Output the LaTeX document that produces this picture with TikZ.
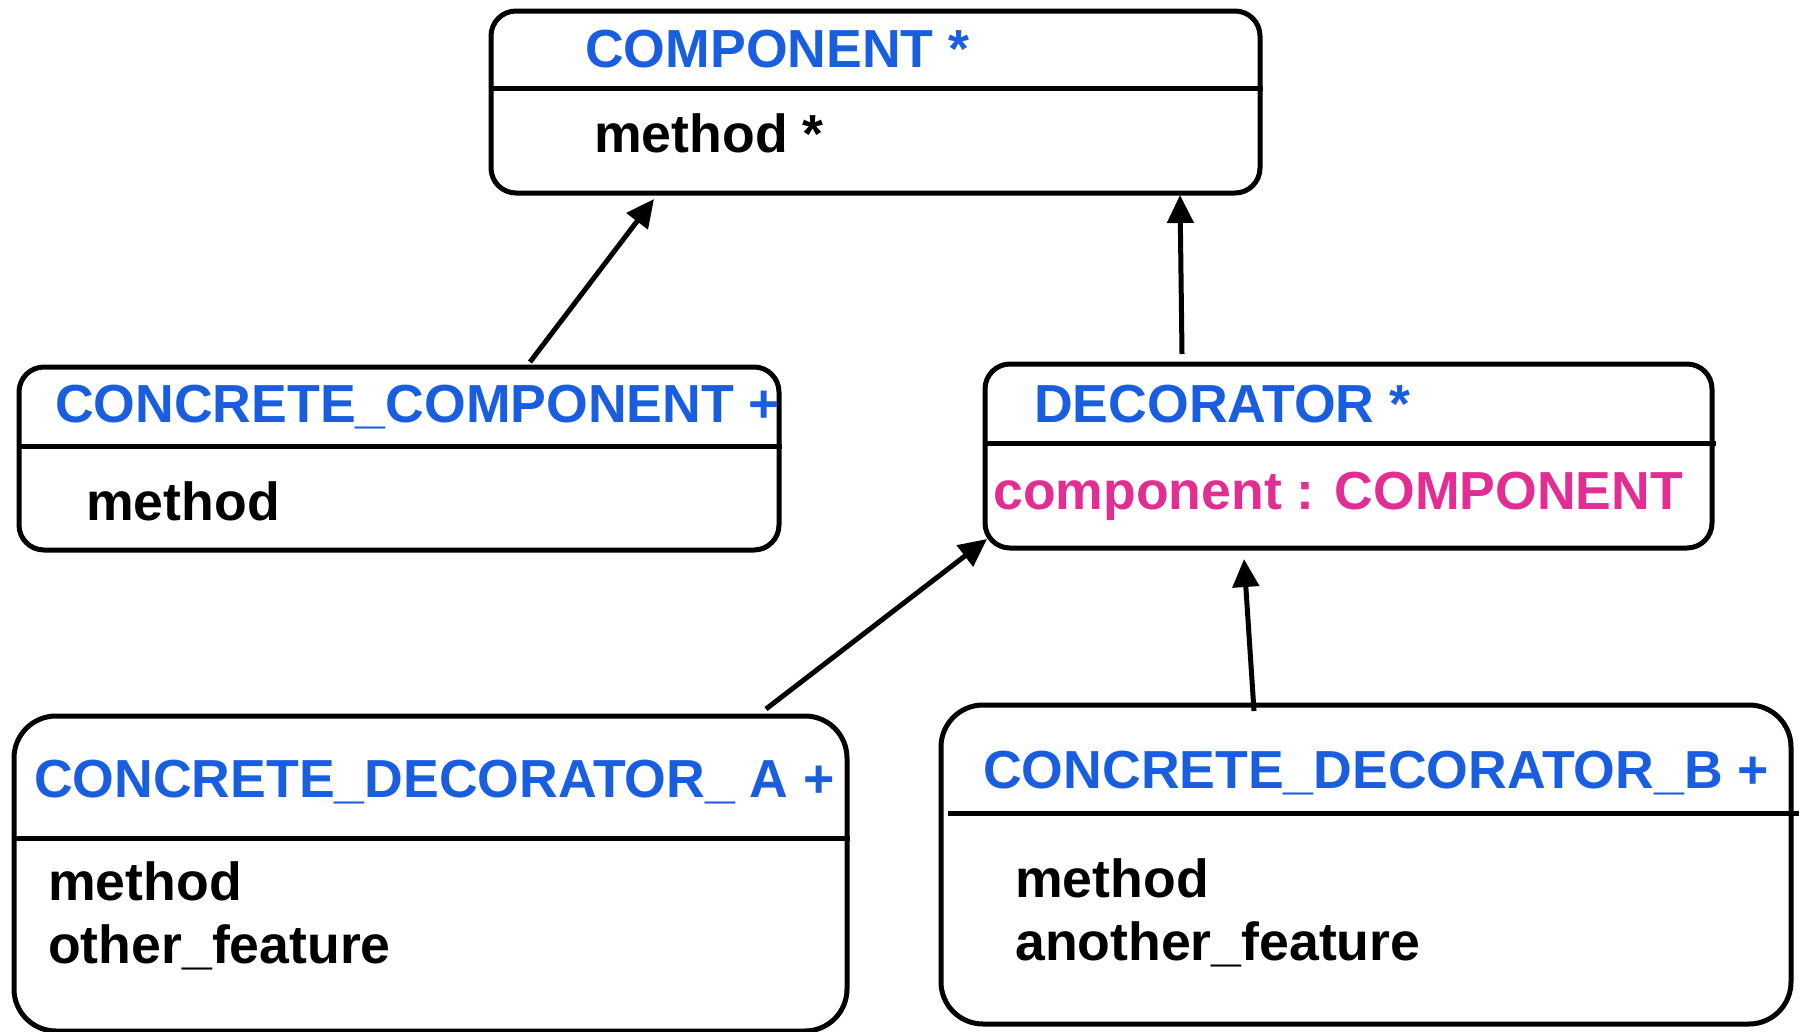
\documentclass[tikz,border=0pt]{standalone}
\usepackage{fontspec}
\setmainfont{Liberation Sans}
\usetikzlibrary{arrows.meta}
\definecolor{tblue}{RGB}{26,94,224}
\definecolor{tmag}{RGB}{226,46,146}
\begin{document}
\begin{tikzpicture}[x=1pt,y=-1pt,
  box/.style={draw=black,line width=5pt,rounded corners=#1,inner sep=0pt,fill=none},
  box/.default=25pt,
  divider/.style={draw=black,line width=5pt},
  txt/.style={anchor=base west,inner sep=0pt,font=\fontsize{53.6}{60}\selectfont\bfseries},
  ttl/.style={txt,text=tblue},
  attr/.style={txt,text=tmag},
  feat/.style={txt,text=black},
  inherit/.style={draw=black,line width=5pt,-{Triangle[length=28pt,width=26pt]}}]
\useasboundingbox (0,0) rectangle (1799,1031);
% boxes
\node[box,minimum width=769pt,minimum height=182pt] (comp) at (875.5,102) {};
\node[box,minimum width=760pt,minimum height=183pt] (cc) at (399,458.5) {};
\node[box,minimum width=727pt,minimum height=184pt] (dec) at (1348.5,456) {};
\node[box=42pt,minimum width=833pt,minimum height=315pt] (cda) at (430.5,873.5) {};
\node[box=42pt,minimum width=850pt,minimum height=319pt] (cdb) at (1366,864.5) {};
% dividers
\draw[divider] (comp.west |- 0,88) -- (comp.east |- 0,88);
\draw[divider] (cc.west |- 0,446) -- (cc.east |- 0,446);
\draw[divider] (dec.west |- 0,443) -- (1716,443);
\draw[divider] (cda.west |- 0,838) -- (cda.east |- 0,838);
\draw[divider] (948,813) -- (1799,813);
% texts
\node[ttl] (tcomp) at (585,67) {COMPONENT *};
\node[feat] (mcomp) at (594,152) {method *};
\node[ttl] (tcc) at (55,422) {CONCRETE\_COMPONENT +};
\node[feat] (mcc) at (86,520) {method};
\node[ttl] (tdec) at (1034,422) {DECORATOR *};
\node[attr] (adec) at (993,509) {component : COMPONENT};
\node[ttl] (tcda) at (34,797) {CONCRETE\_DECORATOR\_ A +};
\node[feat] (mcda) at (48,900) {method};
\node[feat] (ocda) at (48,963) {other\_feature};
\node[ttl] (tcdb) at (983,788) {CONCRETE\_DECORATOR\_B +};
\node[feat] (mcdb) at (1015,897) {method};
\node[feat] (acdb) at (1015,960) {another\_feature};
% connector ends
\coordinate (s1) at (530,362);
\coordinate (e1) at (654,199);
\coordinate (s2) at (1182,354);
\coordinate (e2) at (1180,195);
\coordinate (s3) at (766,709);
\coordinate (e3) at (987,539);
\coordinate (s4) at (1254,711);
\coordinate (e4) at (1244,559);
\draw[inherit] (s1) -- (e1);
\draw[inherit] (s2) -- (e2);
\draw[inherit] (s3) -- (e3);
\draw[inherit] (s4) -- (e4);
\end{tikzpicture}
\end{document}
